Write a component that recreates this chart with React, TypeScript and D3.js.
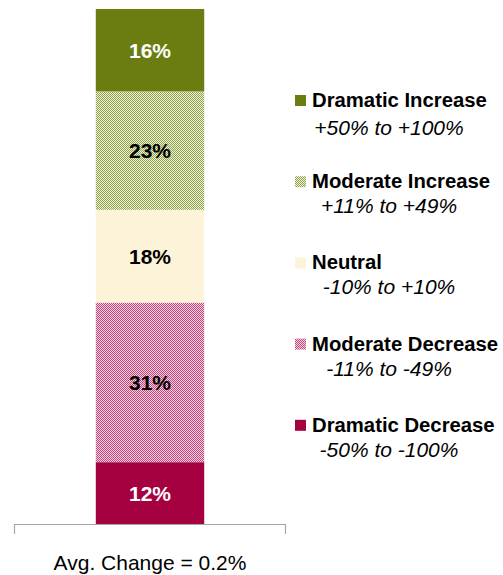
import * as d3 from 'd3';

const categories = ['Avg. Change = 0.2%'];
const segments = [
  'Dramatic Increase',
  'Moderate Increase',
  'Neutral',
  'Moderate Decrease',
  'Dramatic Decrease',
];
const ranges = ['+50% to +100%', '+11% to +49%', '-10% to +10%', '-11% to -49%', '-50% to -100%'];
const shares = [16, 23, 18, 31, 12];

const width = 503;
const height = 575;
const font = "'Liberation Sans', Arial, sans-serif";

// fills: solid or 2px checker patterns
const fills = ['#6B7D10', 'url(#chkGreen)', '#FDF3D8', 'url(#chkPink)', '#A50040'];
const labelColors = ['#fff', '#000', '#000', '#000', '#fff'];

export default function App() {
  const x = d3
    .scaleBand<string>()
    .domain(categories)
    .range([14, 286])
    .paddingInner(0.43)
    .paddingOuter(0.43);
  const y = d3.scaleLinear().domain([0, 100]).range([524, 9]);

  // stack from the bottom: dramatic decrease first
  const row: Record<string, number> = {};
  segments.forEach((s, i) => (row[s] = shares[i]));
  const stacked = d3.stack<Record<string, number>>().keys([...segments].reverse())([row]);

  const bw = x.bandwidth();
  const bx = x(categories[0]) ?? 0;

  return (
    <div style={{ position: 'absolute', left: 0, top: 0 }}>
      <svg width={width} height={height} style={{ display: 'block' }} fontFamily={font}>
        <defs>
          <pattern id="chkGreen" width={2} height={2} patternUnits="userSpaceOnUse">
            <rect width={2} height={2} fill="#EDF1D8" />
            <rect width={1} height={1} fill="#8FA34C" />
            <rect x={1} y={1} width={1} height={1} fill="#8FA34C" />
          </pattern>
          <pattern id="chkPink" width={2} height={2} patternUnits="userSpaceOnUse">
            <rect width={2} height={2} fill="#F3D3E0" />
            <rect width={1} height={1} fill="#C6457C" />
            <rect x={1} y={1} width={1} height={1} fill="#C6457C" />
          </pattern>
        </defs>

        {stacked.map((layer) => {
          const i = segments.indexOf(layer.key);
          const d = layer[0];
          const y0 = y(d[0]);
          const y1 = y(d[1]);
          return (
            <g key={layer.key}>
              <rect x={bx} y={y1} width={bw} height={y0 - y1} fill={fills[i]} />
              <text
                x={bx + bw / 2}
                y={(y0 + y1) / 2}
                dy="0.36em"
                textAnchor="middle"
                fontSize={21}
                fontWeight="bold"
                fill={labelColors[i]}
              >
                {shares[i]}%
              </text>
            </g>
          );
        })}

        {/* category axis */}
        <path
          d={`M${x.range()[0] + 0.5},534V${y(0) + 0.5}H${x.range()[1] - 0.5}V534`}
          fill="none"
          stroke="#A6A6A6"
          strokeWidth={1.2}
        />
        <text x={bx + bw / 2} y={570} textAnchor="middle" fontSize={21} fill="#000">
          {categories[0]}
        </text>

        {/* legend */}
        {segments.map((s, i) => {
          const base = 107 + i * 81.2;
          return (
            <g key={s}>
              <rect x={295} y={base - 12} width={11} height={11} fill={fills[i]} />
              <text x={312} y={base} fontSize={20.3} fontWeight="bold" fill="#000">
                {s}
              </text>
              <text
                x={389}
                y={base + (i === 0 ? 28 : 25)}
                textAnchor="middle"
                fontSize={21}
                fontStyle="italic"
                fill="#000"
              >
                {ranges[i]}
              </text>
            </g>
          );
        })}
      </svg>
    </div>
  );
}
